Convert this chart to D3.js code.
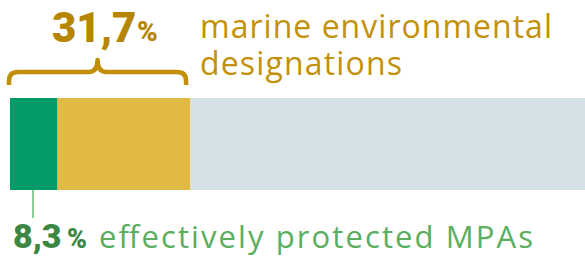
<!DOCTYPE html>
<html><head><meta charset="utf-8">
<script src="https://cdn.jsdelivr.net/npm/d3@7"></script>
<style>html,body{margin:0;padding:0;background:#fff;overflow:hidden}</style>
</head><body><svg id="c" width="585" height="257"></svg>
<script>
const categories = ["effectively protected MPAs", "marine environmental designations", "rest"];
const values = [8.3, 31.7, 100];
const valueLabels = ["8,3", "31,7"];
const colors = ["#049b6a", "#e0ba45", "#d4e2e7"];

const svg = d3.select("#c");
const x = d3.scaleLinear().domain([0, 100]).range([10, 578]);
const y0 = 98, y1 = 190;

const segs = values.map((v, i) => ({ start: i ? values[i - 1] : 0, end: v, c: colors[i] }));
svg.selectAll("rect.seg").data(segs.slice().reverse()).join("rect")
  .attr("x", d => x(d.start))
  .attr("width", d => (d.end === 100 ? 585 : x(d.end)) - x(d.start))
  .attr("y", y0).attr("height", y1 - y0)
  .attr("fill", d => d.c);

// brace over 0..31.7
const bx0 = x(0) - 1, bx1 = x(values[1]) - 4, bm = (bx0 + bx1) / 2;
const yb = 85, yl = 72, yt = 60;
const r = 9;
const bracePath = `M${bx0},${yb} L${bx0},${yl + r} Q${bx0},${yl} ${bx0 + r},${yl} L${bm - r},${yl} Q${bm},${yl} ${bm},${yt}`
  + ` Q${bm},${yl} ${bm + r},${yl} L${bx1 - r},${yl} Q${bx1},${yl} ${bx1},${yl + r} L${bx1},${yb}`;
svg.append("path").attr("d", bracePath).attr("fill", "none")
  .attr("stroke", "#c08f04").attr("stroke-width", 4.5).attr("stroke-linejoin", "round");

const f = "Roboto, 'Open Sans', sans-serif";
const o = "'Open Sans', sans-serif";
function txt(str, xx, yy, size, weight, fill, fam, len) {
  const t = svg.append("text").attr("x", xx).attr("y", yy).attr("font-size", size)
    .attr("font-weight", weight).attr("fill", fill).attr("font-family", fam).text(str);
  if (len) t.attr("textLength", len).attr("lengthAdjust", "spacing");
  return t;
}
txt(valueLabels[1], 52, 42, 42, 900, "#b68502", f);
txt("%", 137, 41, 28, 900, "#b68502", f);

const mt = svg.append("text").attr("font-size", 32).attr("fill", "#c39107").attr("font-family", o);
mt.append("tspan").attr("x", 200).attr("y", 38).attr("textLength", 352).attr("lengthAdjust", "spacing").text("marine environmental");
mt.append("tspan").attr("x", 200).attr("y", 75).attr("textLength", 202).attr("lengthAdjust", "spacing").text("designations");

// leader
svg.append("line").attr("x1", 33).attr("x2", 33).attr("y1", y1).attr("y2", 218)
  .attr("stroke", "#8dca8f").attr("stroke-width", 2);

txt(valueLabels[0], 13, 248, 34, 900, "#3d8744", f);
txt("%", 67, 248, 27, 900, "#3d8744", f);
txt(categories[0], 99, 248, 31, 400, "#5aae5e", o, 434);
</script></body></html>
